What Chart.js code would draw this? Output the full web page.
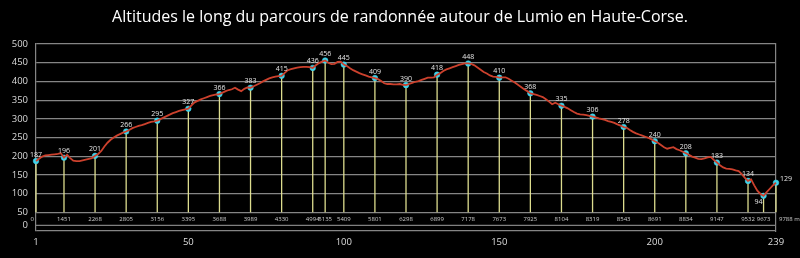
<!DOCTYPE html>
<html>
<head>
<meta charset="utf-8">
<script src="https://cdn.jsdelivr.net/npm/chart.js@4"></script>
<style>
  html, body { margin: 0; padding: 0; background: #000; }
  canvas { display: block; }
</style>
</head>
<body>
<canvas id="c" width="800" height="258"></canvas>
<script>
const titleText = "Altitudes le long du parcours de randonnée autour de Lumio en Haute-Corse.";

// point numbers along the track (1..239)
const pointLabels = [];
for (let i = 1; i <= 239; i++) pointLabels.push(i);
const shownPointLabels = [1, 50, 100, 150, 200, 239];

// altitude profile (m), one value per point
const altitudes = [
  187,193,199,202,203,204,205,206,208,196,
  204,195,188,187,187,189,191,193,195,201,
  206,214,226,236,244,250,255,259,263,266,
  270,275,278,281,283,286,289,292,293,295,
  299,303,307,311,315,318,321,323,325,327,
  336,344,348,352,355,358,361,363,365,366,
  370,374,377,379,383,378,374,380,384,383,
  387,391,395,400,404,408,411,413,414,415,
  423,430,433,435,437,438,439,439,438,436,
  443,449,453,456,450,446,447,452,453,445,
  441,435,430,426,422,419,416,413,411,409,
  406,401,395,393,393,392,392,393,391,390,
  393,396,399,401,404,407,410,410,411,418,
  422,428,432,435,438,441,444,446,448,448,
  447,443,437,431,425,421,416,413,412,410,
  411,411,407,402,397,391,385,379,374,368,
  366,364,361,358,352,346,339,343,339,335,
  332,328,323,318,314,312,311,310,308,306,
  304,301,299,297,294,292,289,285,282,278,
  276,270,265,261,258,255,252,249,245,240,
  236,230,224,220,222,224,219,216,212,208,
  204,199,196,193,192,194,197,198,190,183,
  176,170,167,166,165,162,160,152,142,134,
  138,122,108,99,94,104,113,122,129
];

// marked waypoints
const markerIdx = [1,10,20,30,40,50,60,70,80,90,94,100,110,120,130,140,150,160,170,180,190,200,210,220,230,235,239];
const markerAlt = [187,196,201,266,295,327,366,383,415,436,456,445,409,390,418,448,410,368,335,306,278,240,208,183,134,94,129];
const markerDist = ["0","1451","2268","2805","3156","3395","3688","3989","4330","4994","5135","5409","5801","6298","6899","7178","7673","7925","8104","8319","8543","8691","8834","9147","9532","9673","9788 m"];

const yTicks = [0,50,100,150,200,250,300,350,400,450,500];

const markerSeries = pointLabels.map(() => null);
markerIdx.forEach((n, k) => { markerSeries[n - 1] = markerAlt[k]; });

const FONT = "'Open Sans', 'Noto Sans', sans-serif";

const overlay = {
  id: 'overlay',
  beforeDatasetsDraw(chart) {
    const { ctx, chartArea, scales: { x, y } } = chart;
    const y50 = y.getPixelForValue(50);
    const yBox = y.getPixelForValue(15);
    ctx.save();
    // distance box bottom line
    ctx.strokeStyle = '#808080';
    ctx.lineWidth = 1.2;
    ctx.beginPath();
    ctx.moveTo(chartArea.left, yBox);
    ctx.lineTo(chartArea.right, yBox);
    ctx.stroke();
    // drop lines
    ctx.strokeStyle = 'rgba(232,232,150,0.95)';
    ctx.lineWidth = 1.3;
    markerIdx.forEach((n, k) => {
      const px = x.getPixelForValue(n - 1);
      const py = y.getPixelForValue(markerAlt[k]);
      ctx.beginPath();
      ctx.moveTo(px, py);
      ctx.lineTo(px, y50);
      ctx.stroke();
    });
    ctx.restore();
  },
  afterDatasetsDraw(chart) {
    const { ctx, chartArea, scales: { x, y } } = chart;
    const y50 = y.getPixelForValue(50);
    const yBox = y.getPixelForValue(15);
    ctx.save();
    // "0" label of the y axis, beside the box line
    ctx.fillStyle = '#d8d8d8';
    ctx.font = '9.5px ' + FONT;
    ctx.textAlign = 'right';
    ctx.textBaseline = 'middle';
    ctx.fillText('0', chartArea.left - 8, yBox);
    // marker value labels
    ctx.font = '7px ' + FONT;
    ctx.fillStyle = '#e4e4e4';
    const last = markerIdx.length - 1;
    markerIdx.forEach((n, k) => {
      const px = x.getPixelForValue(n - 1);
      const py = y.getPixelForValue(markerAlt[k]);
      const txt = String(markerAlt[k]);
      ctx.textBaseline = 'alphabetic';
      if (k === last) {
        ctx.textAlign = 'left';
        ctx.fillText(txt, px + 4, py - 1.5);
      } else if (k === last - 1) {
        ctx.textAlign = 'center';
        ctx.fillText(txt, px - 5, py + 8.5);
      } else {
        ctx.textAlign = 'center';
        ctx.fillText(txt, px, py - 4.5);
      }
    });
    // distance labels
    ctx.font = '6px ' + FONT;
    ctx.fillStyle = '#cccccc';
    ctx.textBaseline = 'middle';
    const yd = (y50 + yBox) / 2;
    markerIdx.forEach((n, k) => {
      const px = x.getPixelForValue(n - 1);
      if (k === 0) { ctx.textAlign = 'right'; ctx.fillText(markerDist[k], px - 2, yd); }
      else if (k === last) { ctx.textAlign = 'left'; ctx.fillText(markerDist[k], px + 3, yd); }
      else { ctx.textAlign = 'center'; ctx.fillText(markerDist[k], px, yd); }
    });
    ctx.restore();
  }
};

new Chart(document.getElementById('c'), {
  type: 'line',
  data: {
    labels: pointLabels,
    datasets: [
      {
        data: altitudes,
        borderColor: '#cc412d',
        borderWidth: 1.8,
        pointRadius: 0,
        tension: 0,
        fill: false
      },
      {
        data: markerSeries,
        showLine: false,
        pointRadius: 2.8,
        pointBackgroundColor: '#3fd2ea',
        pointBorderColor: '#3fd2ea',
        pointBorderWidth: 0.5
      }
    ]
  },
  options: {
    responsive: false,
    animation: false,
    devicePixelRatio: 1,
    layout: { padding: 0 },
    plugins: {
      legend: { display: false },
      tooltip: { enabled: false },
      title: {
        display: true,
        text: titleText,
        color: '#ffffff',
        font: { family: FONT, size: 16, weight: 'normal' },
        padding: { top: 7.5, bottom: 17.3 }
      }
    },
    scales: {
      x: {
        grid: { display: false, drawTicks: false },
        border: { display: false },
        ticks: {
          autoSkip: false,
          maxRotation: 0,
          color: '#dddddd',
          font: { family: FONT, size: 9.5 },
          padding: 6,
          callback: (v, i) => shownPointLabels.includes(pointLabels[i]) ? String(pointLabels[i]) : ''
        },
        afterFit: s => { s.height = 27; }
      },
      y: {
        min: 0,
        max: 500,
        afterBuildTicks: s => { s.ticks = yTicks.map(v => ({ value: v })); },
        ticks: {
          color: '#d8d8d8',
          font: { family: FONT, size: 9.5 },
          padding: 8,
          callback: v => v === 0 ? '' : String(v)
        },
        grid: { color: '#858585', lineWidth: 1.2, drawTicks: false },
        border: { color: '#858585', width: 1.2 },
        afterFit: s => { s.width = 36; }
      },
      yR: {
        position: 'right',
        display: true,
        ticks: { display: false },
        grid: { display: false, drawTicks: false },
        border: { display: true, color: '#858585', width: 1.2 },
        afterFit: s => { s.width = 24; }
      }
    }
  },
  plugins: [overlay]
});
</script>
</body>
</html>
